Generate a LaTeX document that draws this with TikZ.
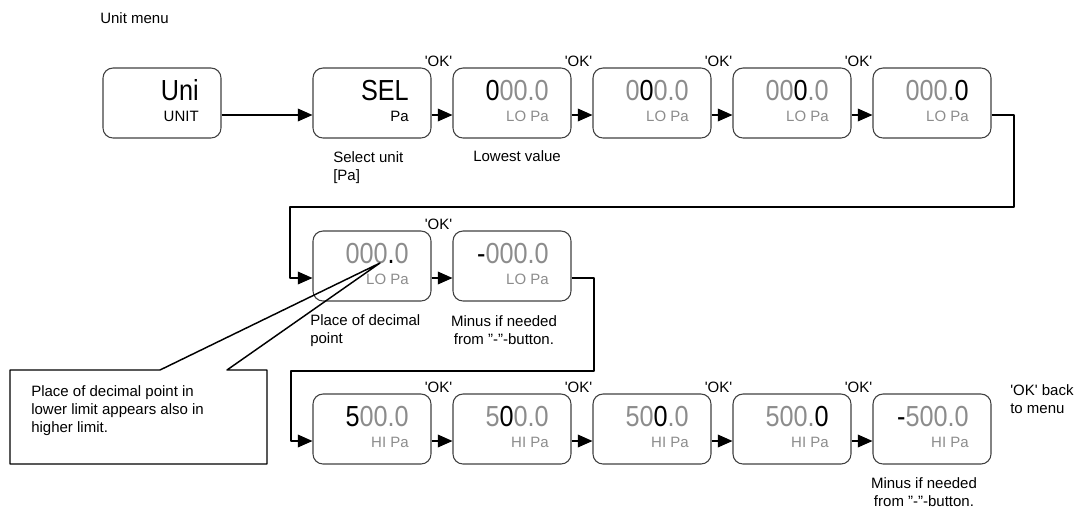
\documentclass[tikz,border=0pt]{standalone}
\usepackage{fontspec}
\setmainfont{Liberation Sans}
\usepackage{graphicx}
\usetikzlibrary{arrows.meta,calc}
\definecolor{dimgray}{HTML}{8C8C8C}
\newcommand{\on}[1]{\textcolor{black}{#1}}
\newcommand{\seg}[1]{\scalebox{0.87}[1]{\fontsize{21.75}{22}\selectfont #1}}
\newcommand{\okq}{\textquotesingle OK\textquotesingle}

\begin{document}
\begin{tikzpicture}[x=0.75pt, y=-0.75pt, line join=round, >={Triangle[length=11pt,width=9.5pt]},
	font=\fontsize{11.25}{13.5}\selectfont,
	disp/.style={draw=black!75, line width=0.8pt, rounded corners=7.5pt, minimum width=88.5pt, minimum height=52.5pt, inner sep=0pt},
	val/.style={anchor=base east, inner sep=0pt, text=dimgray},
	unit/.style={anchor=base east, inner sep=0pt, text=dimgray},
	ok/.style={anchor=base east, inner sep=0pt},
	wire/.style={line width=1.1pt},
	note/.style={anchor=base west, inner sep=0pt, align=left}]
	\useasboundingbox (0,0) rectangle (1090,508);
	\node[note] (title) at (100,23) {Unit menu};
	% top row
	\node[disp] (uni) at (162,103) {};
	\node[val, text=black] (univ) at ($(uni.center)+(37,-3)$) {\seg{Uni}};
	\node[unit, text=black] (uniu) at ($(uni.center)+(37,18)$) {UNIT};
	\node[disp] (sel) at (372,103) {};
	\node[val, text=black] (selv) at ($(sel.center)+(37,-3)$) {\seg{SEL}};
	\node[unit, text=black] (selu) at ($(sel.center)+(37,18)$) {Pa};
	\foreach \i/\x/\v in {1/512/{\on{0}00.0}, 2/652/{0\on{0}0.0}, 3/792/{00\on{0}.0}, 4/932/{000.\on{0}}} {
		\node[disp] (lo\i) at (\x,103) {};
		\node[val] (lov\i) at ($(lo\i.center)+(37,-3)$) {\seg{\v}};
		\node[unit] (lou\i) at ($(lo\i.center)+(37,18)$) {LO Pa};
		\node[ok] (look\i) at ([yshift=0.75pt]lo\i.north west) {\okq};
	}
	\draw[wire,->] ([yshift=-9pt]uni.east) -- ([yshift=-9pt]sel.west);
	\draw[wire,->] ([yshift=-9pt]sel.east) -- ([yshift=-9pt]lo1.west);
	\foreach \a/\b in {1/2,2/3,3/4}
	\draw[wire,->] ([yshift=-9pt]lo\a.east) -- ([yshift=-9pt]lo\b.west);
	\node[note] (selnote) at (333,180) {Select unit\\{[Pa]}};
	\node[note] (lownote) at (473,161) {Lowest value};
	% middle row
	\node[disp] (m1) at (372,266) {};
	\node[val] (mv1) at ($(m1.center)+(37,-3)$) {\seg{000\on{.}0}};
	\node[unit] (mu1) at ($(m1.center)+(37,18)$) {LO Pa};
	\node[disp] (m2) at (512,266) {};
	\node[val] (mv2) at ($(m2.center)+(37,-3)$) {\seg{\on{-}000.0}};
	\node[unit] (mu2) at ($(m2.center)+(37,18)$) {LO Pa};
	\node[ok] (mok2) at ([yshift=0.75pt]m2.north west) {\okq};
	\draw[wire,->] ([yshift=-9pt]lo4.east) -| (1014,207) -| (290,278) -- ([yshift=-9pt]m1.west);
	\draw[wire,->] ([yshift=-9pt]m1.east) -- ([yshift=-9pt]m2.west);
	\node[note] (decnote) at (310,343) {Place of decimal\\point};
	\node[note, align=center, anchor=base] (minnote) at (504,344) {Minus if needed\\from ”-”-button.};
	% bottom row
	\foreach \i/\x/\v in {1/372/{\on{5}00.0}, 2/512/{5\on{0}0.0}, 3/652/{50\on{0}.0}, 4/792/{500.\on{0}}, 5/932/{\on{-}500.0}} {
		\node[disp] (hi\i) at (\x,429) {};
		\node[val] (hiv\i) at ($(hi\i.center)+(37,-3)$) {\seg{\v}};
		\node[unit] (hiu\i) at ($(hi\i.center)+(37,18)$) {HI Pa};
	}
	\foreach \i in {2,...,5}
	\node[ok] (hiok\i) at ([yshift=0.75pt]hi\i.north west) {\okq};
	\foreach \a/\b in {1/2,2/3,3/4,4/5}
	\draw[wire,->] ([yshift=-9pt]hi\a.east) -- ([yshift=-9pt]hi\b.west);
	\draw[wire,->] ([yshift=-9pt]m2.east) -| (594,371) -| (291,441) -- ([yshift=-9pt]hi1.west);
	\node[note] (backnote) at (1010,413) {\okq{} back\\to menu};
	\node[note, align=center, anchor=base] (minnote2) at (924,506) {Minus if needed\\from ”-”-button.};
	% callout
	\draw[wire] (10,370) -- (160,370) -- (380,263) -- (227,370) -- (267,370) -- (267,464) -- (10,464) -- cycle;
	\node[note] (callout) at (31,432) {Place of decimal point in\\lower limit appears also in\\higher limit.};
\end{tikzpicture}
\end{document}
